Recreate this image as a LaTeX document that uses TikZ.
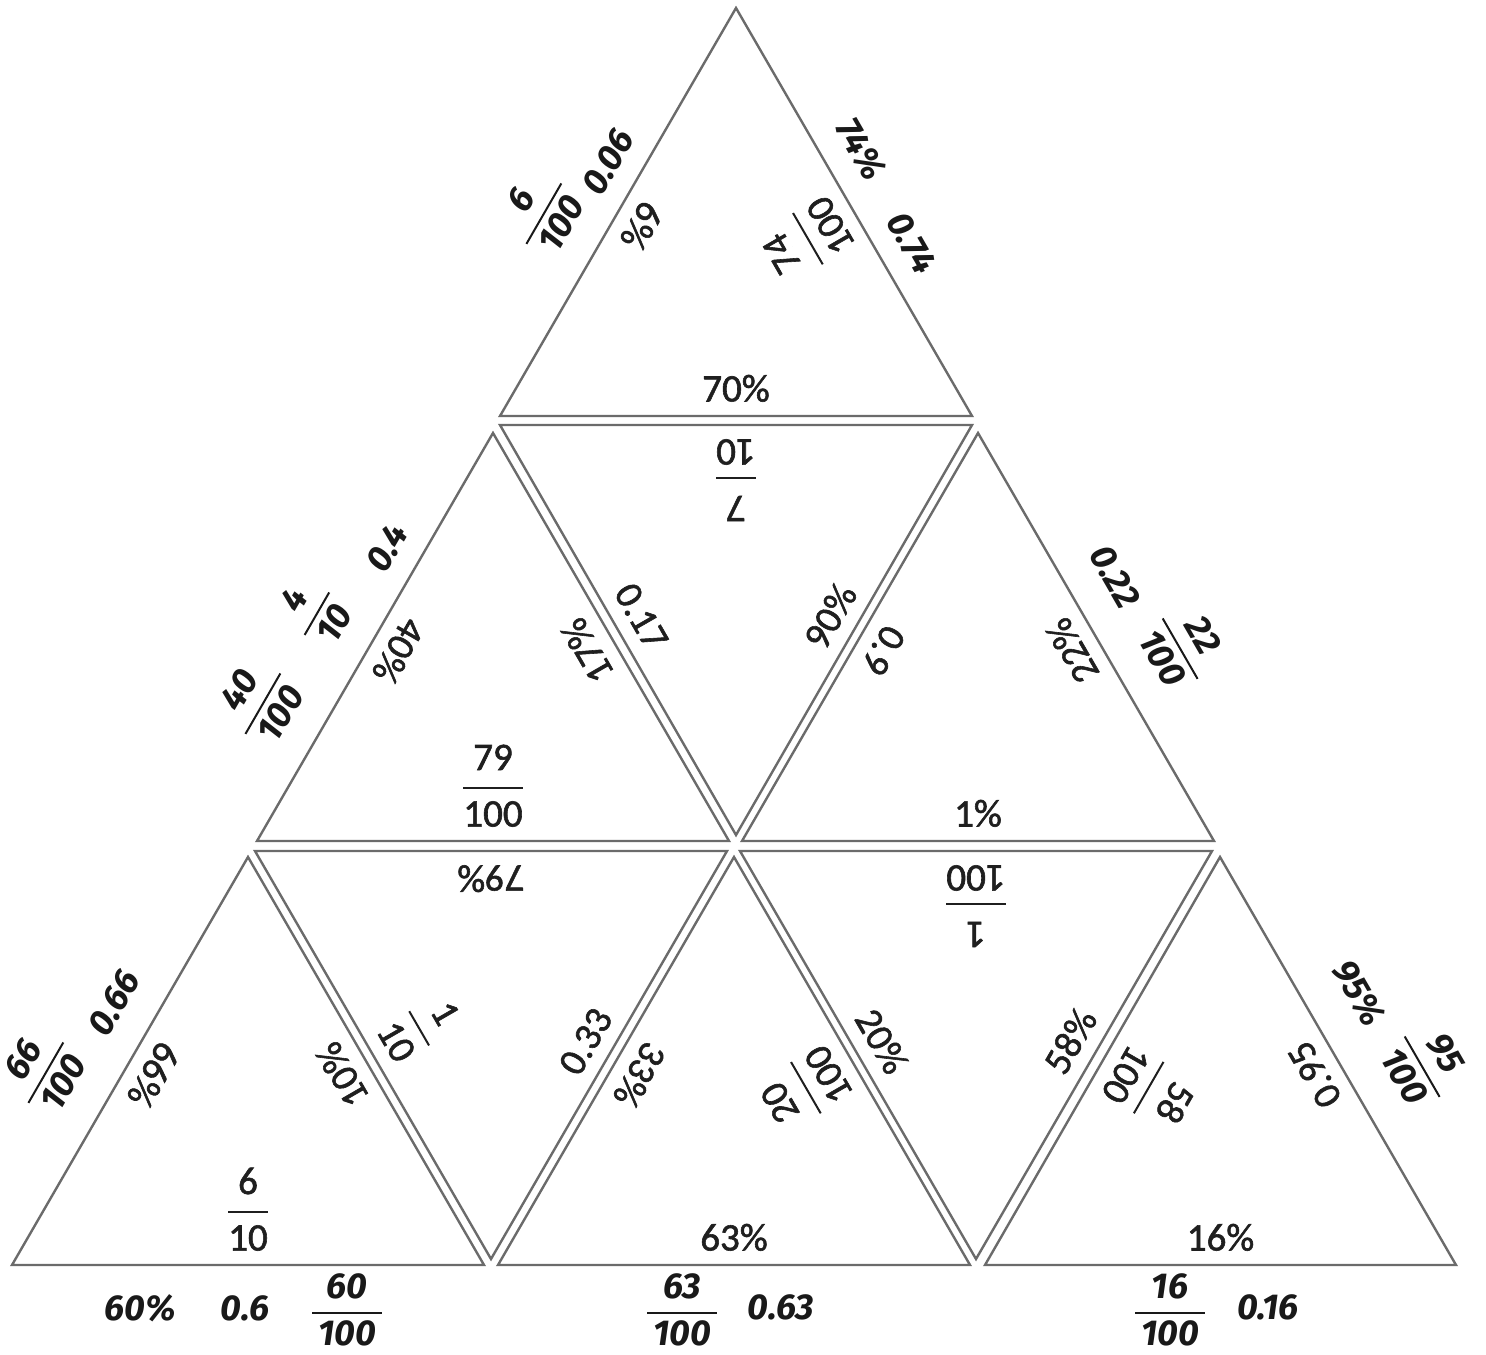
\documentclass[tikz,border=0pt]{standalone}
\usepackage{fontspec}
\setmainfont{Carlito}
\newfontfamily\innerfont{Carlito}[FakeBold=1.5]
\newfontfamily\handfont{Fira Sans}
\newcommand{\fr}[2]{$\displaystyle{\mbox{#1}\above 1pt\mbox{#2}}$}
\newcommand{\hfr}[2]{$\displaystyle{\mbox{#1}\above 1pt\mbox{\,#2\,}}$}
\tikzset{
  piece/.style={draw=black!58, line width=1.2pt},
  edgelbl/.style={sloped, allow upside down, above=6.5pt, inner sep=0pt, text=black!88, font=\innerfont\fontsize{19.5}{22}\selectfont},
  hand/.style={inner sep=0pt, text=black!90, font=\handfont\bfseries\itshape\fontsize{18}{20}\selectfont}
}

\begin{document}
\begin{tikzpicture}[x=0.5pt,y=-0.5pt]
\useasboundingbox (0,0) rectangle (1486,1354);
\draw[piece] (500,416) -- node[edgelbl] (t1s) {70\%} (972,416) -- node[edgelbl] (t1r) {\fr{74}{100}} (736,8) -- node[edgelbl] (t1l) {6\%} cycle;
\draw[piece] (257,841) -- node[edgelbl] (t2s) {\fr{79}{100}} (729,841) -- node[edgelbl] (t2r) {17\%} (493,433) -- node[edgelbl] (t2l) {40\%} cycle;
\draw[piece] (972,425) -- node[edgelbl] (t3s) {\fr{7}{10}} (500,425) -- node[edgelbl] (t3l) {0.17} (736,835) -- node[edgelbl] (t3r) {90\%} cycle;
\draw[piece] (742,841) -- node[edgelbl] (t4s) {1\%} (1214,841) -- node[edgelbl] (t4r) {22\%} (978,433) -- node[edgelbl] (t4l) {0.9} cycle;
\draw[piece] (12,1265) -- node[edgelbl] (t5s) {\fr{6}{10}} (484,1265) -- node[edgelbl] (t5r) {10\%} (248,857) -- node[edgelbl] (t5l) {66\%} cycle;
\draw[piece] (727,851) -- node[edgelbl] (t6s) {79\%} (255,851) -- node[edgelbl] (t6l) {\fr{1}{10}} (491,1259) -- node[edgelbl] (t6r) {0.33} cycle;
\draw[piece] (498,1265) -- node[edgelbl] (t7s) {63\%} (970,1265) -- node[edgelbl] (t7r) {\fr{20}{100}} (734,857) -- node[edgelbl] (t7l) {33\%} cycle;
\draw[piece] (1212,851) -- node[edgelbl] (t8s) {\fr{1}{100}} (740,851) -- node[edgelbl] (t8l) {20\%} (976,1259) -- node[edgelbl] (t8r) {58\%} cycle;
\draw[piece] (985,1265) -- node[edgelbl] (t9s) {16\%} (1456,1265) -- node[edgelbl] (t9r) {0.95} (1220,857) -- node[edgelbl] (t9l) {\fr{58}{100}} cycle;
\node[hand, rotate=60] (o1a) at (541,212) {\hfr{6}{100}};
\node[hand, rotate=60] (o1b) at (608,162) {0.06};
\node[hand, rotate=-60] (o1c) at (861,149) {74\%};
\node[hand, rotate=-60] (o1d) at (912,243) {0.74};
\node[hand, rotate=60] (o2a) at (260,702) {\hfr{40}{100}};
\node[hand, rotate=60] (o2b) at (314,612) {\hfr{4}{10}};
\node[hand, rotate=60] (o2c) at (387,548) {0.4};
\node[hand, rotate=-60] (o2d) at (1115,577) {0.22};
\node[hand, rotate=-60] (o2e) at (1183,647) {\hfr{22}{100}};
\node[hand, rotate=60] (o3a) at (43,1071) {\hfr{66}{100}};
\node[hand, rotate=60] (o3b) at (114,1003) {0.66};
\node[hand, rotate=-60] (o3c) at (1359,993) {95\%};
\node[hand, rotate=-60] (o3d) at (1425,1065) {\hfr{95}{100}};
\node[hand] (b1a) at (140,1308) {60\%};
\node[hand] (b1b) at (245,1308) {0.6};
\node[hand] (b1c) at (347,1310) {\hfr{60}{100}};
\node[hand] (b2a) at (682,1310) {\hfr{63}{100}};
\node[hand] (b2b) at (781,1307) {0.63};
\node[hand] (b3a) at (1170,1310) {\hfr{16}{100}};
\node[hand] (b3b) at (1268,1307) {0.16};
\end{tikzpicture}
\end{document}
